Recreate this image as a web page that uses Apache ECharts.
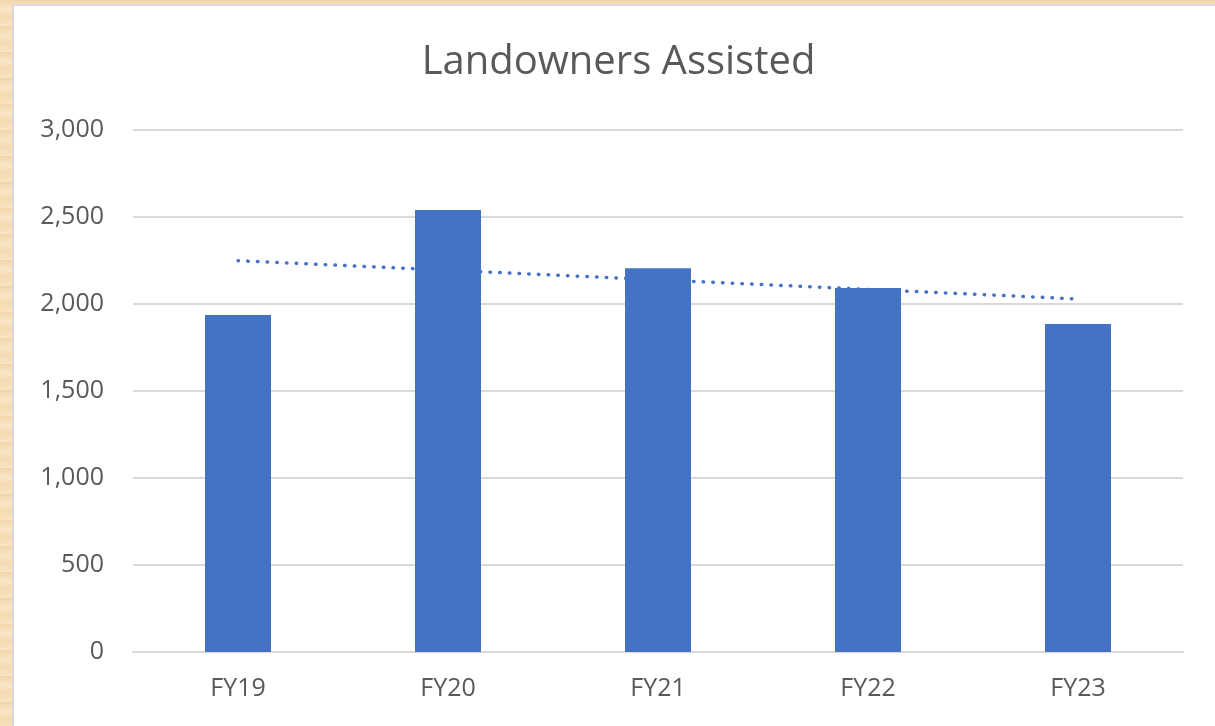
<!DOCTYPE html>
<html lang="en">
<head>
    <meta charset="utf-8">
    <title>Landowners Assisted</title>
    <style>
        html, body { margin: 0; padding: 0; width: 100%; height: 100%; overflow: hidden; }
        body {
            background:
                repeating-linear-gradient(180deg, rgba(230, 190, 130, 0.35) 0px, rgba(255, 240, 215, 0.2) 9px, rgba(240, 205, 150, 0.35) 17px, rgba(252, 236, 208, 0.2) 26px),
                #f7e2bf;
        }
        #panel {
            position: absolute; left: 12px; top: 4px; right: -4px; bottom: -4px;
            background: #fff; border: 2px solid #d9d9d9;
        }
        /* shifted so the title centres over the white panel */
        #main { position: absolute; left: 11px; top: 0; width: 1215px; height: 726px; }
    </style>
</head>
<body>
    <div id="panel"></div>
    <div id="main"></div>
    <script src="https://cdn.jsdelivr.net/npm/echarts@6/dist/echarts.min.js"></script>
    <script>
        // values
        var categories = ['FY19', 'FY20', 'FY21', 'FY22', 'FY23'];
        var landowners = [1937, 2540, 2205, 2092, 1885];
        // linear trendline, only the two ends are drawn
        var trendValues = [2249, null, null, null, 2029];
        var yTicks = [0, 500, 1000, 1500, 2000, 2500, 3000];

        var chart = echarts.init(document.getElementById('main'));
        var font = 'Open Sans';

        var option = {
            animation: false,
            backgroundColor: 'transparent',
            title: {
                text: 'Landowners Assisted',
                left: 'center',
                top: 38,
                textStyle: { color: '#595959', fontSize: 40, fontWeight: 'normal', fontFamily: font }
            },
            grid: { left: 122, right: 43, top: 130, bottom: 74 },
            xAxis: {
                type: 'category',
                data: categories,
                axisLine: { lineStyle: { color: '#d9d9d9', width: 2 } },
                axisTick: { show: false },
                axisLabel: { color: '#595959', fontSize: 25, fontFamily: font, margin: 24 }
            },
            yAxis: {
                type: 'value',
                min: yTicks[0],
                max: yTicks[yTicks.length - 1],
                interval: yTicks[1] - yTicks[0],
                axisLine: { show: false },
                axisTick: { show: false },
                splitLine: { lineStyle: { color: '#d9d9d9', width: 2 } },
                axisLabel: {
                    color: '#595959', fontSize: 25, fontFamily: font, margin: 29,
                    formatter: function (v) { return v.toLocaleString('en-US'); }
                }
            },
            series: [
                {
                    name: 'Trend',
                    type: 'line',
                    data: trendValues,
                    connectNulls: true,
                    symbol: 'none',
                    z: 1,
                    lineStyle: { color: '#4472c4', width: 3.5, type: [0.5, 9.2], cap: 'round' }
                },
                {
                    name: 'Landowners',
                    type: 'bar',
                    data: landowners,
                    barWidth: 66,
                    z: 2,
                    itemStyle: { color: '#4472c4' }
                }
            ]
        };

        chart.setOption(option);
    </script>
</body>
</html>
